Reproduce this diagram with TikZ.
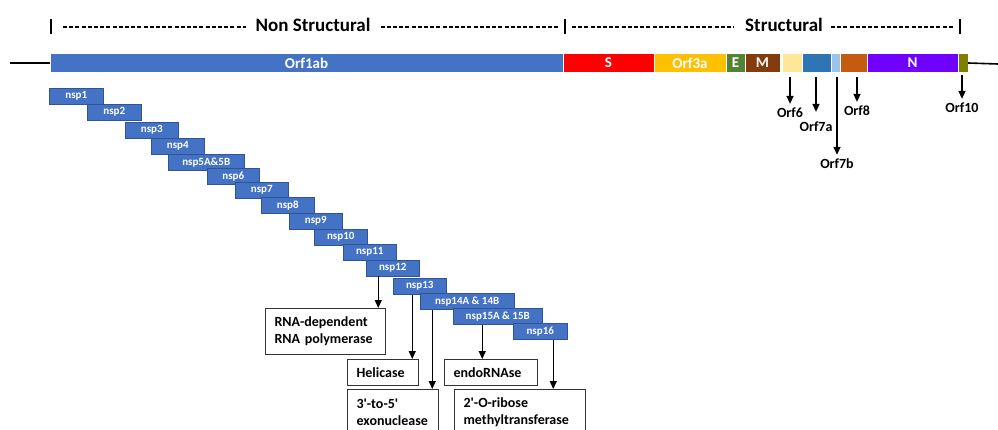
\documentclass[tikz,border=0pt]{standalone}
\usepackage{fontspec}
\setmainfont{Carlito}
\usetikzlibrary{arrows.meta,positioning}
\definecolor{orfab}{HTML}{4472C4}
\definecolor{nspedge}{HTML}{2F5597}
\definecolor{sred}{HTML}{FF0000}
\definecolor{orfthree}{HTML}{FFC000}
\definecolor{egreen}{HTML}{548235}
\definecolor{mbrown}{HTML}{843C0C}
\definecolor{orfsix}{HTML}{FFE699}
\definecolor{orfsevena}{HTML}{2E75B6}
\definecolor{orfsevenb}{HTML}{9DC3E6}
\definecolor{orfeight}{HTML}{C55A11}
\definecolor{npurple}{HTML}{7000FF}
\definecolor{orften}{HTML}{7F7F00}
\tikzset{
  seg/.style={rectangle,draw=white,line width=0.4pt,minimum height=19,inner sep=0pt,text=white,font=\bfseries\fontsize{15}{18}\selectfont},
  nspbox/.style={rectangle,fill=orfab,draw=nspedge,line width=0.5pt,minimum height=16,inner sep=0pt,anchor=north west,text=white,font=\bfseries\fontsize{11}{13}\selectfont},
  func/.style={rectangle,draw=black!80,line width=1.2pt,anchor=north west,inner xsep=9pt,inner ysep=0pt,align=left,font=\bfseries\fontsize{14}{17}\selectfont},
  orflab/.style={font=\bfseries\fontsize{14}{17}\selectfont,inner sep=1pt},
  region/.style={font=\bfseries\fontsize{19}{22}\selectfont,inner sep=0pt},
  farr/.style={-{Triangle[length=8pt,width=7pt]},line width=1.4pt},
  backbone/.style={line width=1.6pt,black},
  regbar/.style={line width=1.6pt,black},
  dashline/.style={line width=1.4pt,dash pattern=on 4pt off 2.2pt},
}
\begin{document}
\begin{tikzpicture}[x=1pt,y=-1pt]
  \useasboundingbox (0,0) rectangle (998,430);
  \foreach \nm/\x in {b0/51,b1/565,b2/960} \coordinate (\nm) at (\x,27);
  \foreach \nm in {b0,b1,b2} \draw[regbar] ([yshift=7.5pt]\nm) -- ([yshift=-7.5pt]\nm);
  \node[region] (nonst) at (313,25) {Non Structural};
  \node[region] (struc) at (784,25) {Structural};
  \draw[dashline,shorten <=12pt,shorten >=9pt] (b0) -- (b0 -| nonst.west);
  \draw[dashline,shorten <=10pt,shorten >=7pt] (b0 -| nonst.east) -- (b1);
  \draw[dashline,shorten <=7pt,shorten >=11pt] (b1) -- (b1 -| struc.west);
  \draw[dashline,shorten <=8pt,shorten >=5pt] (b1 -| struc.east) -- (b2);

  \foreach \a/\b/\c/\n/\t in {50/563/orfab/orf1ab/Orf1ab,563/654/sred/s/S,654/726/orfthree/orf3a/Orf3a,
      726/745/egreen/e/E,745/780/mbrown/m/M,782/802/orfsix/orf6/{},802/831/orfsevena/orf7a/{},
      831/840/orfsevenb/orf7b/{},840/867/orfeight/orf8/{},867/958/npurple/n/N,958/968/orften/orf10/{}}
    \node[seg,fill=\c,minimum width={\b-\a}] (\n) at ({(\a+\b)/2},63) {\t};
  \coordinate (lend) at (10,63);
  \coordinate (rend) at (998,64);
  \draw[backbone] (lend) -- (orf1ab.west);
  \draw[backbone] (orf10.east) -- (rend);

  \node[orflab] (l6)  at (790,113) {Orf6};
  \node[orflab] (l7a) at (816,127) {Orf7a};
  \node[orflab] (l7b) at (837,164) {Orf7b};
  \node[orflab] (l8)  at (857,111) {Orf8};
  \node[orflab] (l10) at (962,108) {Orf10};
  \draw[farr,shorten <=4pt,shorten >=3pt] (orf6.south -| l6.north) -- (l6.north);
  \draw[farr,shorten <=4pt,shorten >=9pt] (orf7a.south -| l7a.north) -- (l7a.north);
  \draw[farr,shorten <=4pt,shorten >=3pt] (orf7b.south -| l7b.north) -- (l7b.north);
  \draw[farr,shorten <=4pt,shorten >=3pt] (orf8.south -| l8.north) -- (l8.north);
  \draw[farr,shorten <=2pt,shorten >=3pt] (orf10.south -| l10.north) -- (l10.north);

  \foreach \n/\x/\y/\w/\t in {1/49/88/54/nsp1,2/87/104/54/nsp2,3/125/122/53/nsp3,4/151/138/53/nsp4,
      5/168/154/76/nsp5A\&5B,6/207/168/52/nsp6,7/235/182/53/nsp7,8/261/197/53/nsp8,
      9/289/213/53/nsp9,10/314/229/53/nsp10,11/343/244/53/nsp11,12/366/260/53/nsp12,
      13/393/278/53/nsp13,14/420/293/94/nsp14A \& 14B,15/453/308/89/nsp15A \& 15B,16/513/323/54/nsp16}
    \node[nspbox,minimum width=\w] (nsp\n) at (\x,\y) {\t};

  \node[func,text width=102pt,minimum height=46pt] (rdrp) at (265,308) {RNA-dependent\\RNA polymerase};
  \node[func,text width=53pt,minimum height=26pt] (heli) at (347,359) {Helicase};
  \node[func,text width=73pt,minimum height=46pt] (exon) at (347,389) {3\textquotesingle-to-5\textquotesingle\\exonuclease};
  \node[func,text width=75pt,minimum height=26pt] (endo) at (444,359) {endoRNAse};
  \node[func,text width=113pt,minimum height=46pt] (mtase) at (454,389) {2\textquotesingle-O-ribose\\methyltransferase};
  \draw[farr] ([xshift=-14.5pt]nsp12.south) -- ([xshift=-14.5pt]nsp12.south |- rdrp.north);
  \draw[farr] ([xshift=-7.5pt]nsp13.south) -- ([xshift=-7.5pt]nsp13.south |- heli.north);
  \draw[farr] ([xshift=-35pt]nsp14.south) -- ([xshift=-35pt]nsp14.south |- exon.north);
  \draw[farr] ([xshift=-15.5pt]nsp15.south) -- ([xshift=-15.5pt]nsp15.south |- endo.north);
  \draw[farr] ([xshift=13pt]nsp16.south) -- ([xshift=13pt]nsp16.south |- mtase.north);
\end{tikzpicture}
\end{document}
